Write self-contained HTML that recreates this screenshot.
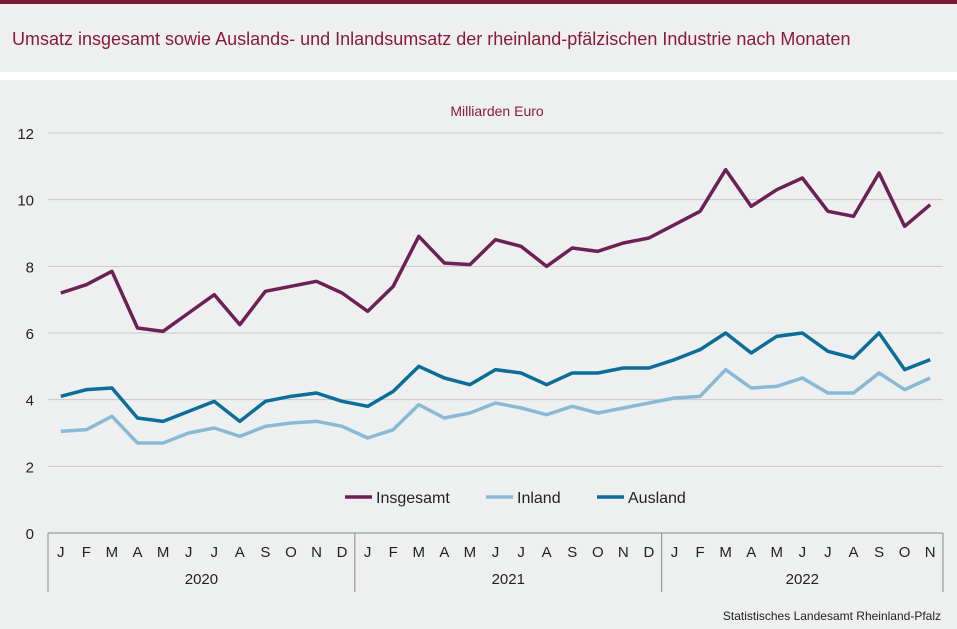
<!DOCTYPE html>
<html><head><meta charset="utf-8"><style>
body{margin:0;width:957px;height:629px;background:#eef0ef;font-family:"Liberation Sans",sans-serif;overflow:hidden;position:relative}
</style></head><body>
<div style="position:absolute;left:0;top:0;width:957px;height:4px;background:#7a1b33"></div>
<div style="position:absolute;left:12px;top:29px;font-size:18px;color:#8b1a3a">Umsatz insgesamt sowie Auslands- und Inlandsumsatz der rheinland-pfälzischen Industrie nach Monaten</div>
<div style="position:absolute;left:0;top:72px;width:957px;height:8px;background:#fff"></div>
<svg id="c" width="957" height="629" style="position:absolute;left:0;top:0"></svg>
<script>
const years=["2020","2021","2022"];
const months=["J","F","M","A","M","J","J","A","S","O","N","D","J","F","M","A","M","J","J","A","S","O","N","D","J","F","M","A","M","J","J","A","S","O","N"];
const yTicks=[0,2,4,6,8,10,12];
const insgesamt=[7.2,7.45,7.85,6.15,6.05,6.6,7.15,6.25,7.25,7.4,7.55,7.2,6.65,7.4,8.9,8.1,8.05,8.8,8.6,8.0,8.55,8.45,8.7,8.85,9.25,9.65,10.9,9.8,10.3,10.65,9.65,9.5,10.8,9.2,9.85];
const inland=[3.05,3.1,3.5,2.7,2.7,3.0,3.15,2.9,3.2,3.3,3.35,3.2,2.85,3.1,3.85,3.45,3.6,3.9,3.75,3.55,3.8,3.6,3.75,3.9,4.05,4.1,4.9,4.35,4.4,4.65,4.2,4.2,4.8,4.3,4.65];
const ausland=[4.1,4.3,4.35,3.45,3.35,3.65,3.95,3.35,3.95,4.1,4.2,3.95,3.8,4.25,5.0,4.65,4.45,4.9,4.8,4.45,4.8,4.8,4.95,4.95,5.2,5.5,6.0,5.4,5.9,6.0,5.45,5.25,6.0,4.9,5.2];
const svg=document.getElementById('c');const NS='http://www.w3.org/2000/svg';
const x0=48,x1=943,yb=533,yt=133,n=months.length,step=(x1-x0)/n;
const X=i=>x0+step*(i+0.5),Y=v=>yb-(v/12)*(yb-yt);
function mk(t,a,txt){const e=document.createElementNS(NS,t);for(const k in a)e.setAttribute(k,a[k]);if(txt!=null)e.textContent=txt;svg.appendChild(e);return e;}
let e=mk('text',{x:497,y:116,'text-anchor':'middle','font-size':14,fill:'#8b1a3a'},'Milliarden Euro');

yTicks.forEach(v=>{
 if(v>0){const g=mk('line',{x1:x0,x2:x1,y1:Y(v),y2:Y(v),stroke:'#c8c8c8','stroke-width':1});}
 const t=mk('text',{x:34,y:Y(v)+6,'text-anchor':'end','font-size':15,fill:'#222'},String(v));
 
});
e=mk('line',{x1:x0,x2:x1,y1:yb,y2:yb,stroke:'#888'});
months.forEach((m,i)=>{const t=mk('text',{x:X(i),y:557,'text-anchor':'middle','font-size':15,fill:'#222'},m);
 });
years.forEach((yr,k)=>{const s=k*12,en=Math.min(n,s+12);
 const l=mk('line',{x1:x0+s*step,x2:x0+s*step,y1:yb,y2:592,stroke:'#888'});
 const t=mk('text',{x:x0+(s+en)/2*step,y:584,'text-anchor':'middle','font-size':15,fill:'#222'},yr);
 });
e=mk('line',{x1:x1,x2:x1,y1:yb,y2:592,stroke:'#888'});
const series=[[inland,'#8ab9d6','line-inland'],[ausland,'#0a6e99','line-ausland'],[insgesamt,'#6b2154','line-insgesamt']];
series.forEach(([d,c,nm])=>{const p=mk('polyline',{points:d.map((v,i)=>X(i)+','+Y(v)).join(' '),fill:'none',stroke:c,'stroke-width':3.5,'stroke-linejoin':'round'});
 });
[['Insgesamt','#6b2154',345],['Inland','#8ab9d6',486],['Ausland','#0a6e99',597]].forEach(([l,c,x])=>{
 const ln=mk('line',{x1:x,x2:x+27,y1:497,y2:497,stroke:c,'stroke-width':3.5});
 const t=mk('text',{x:x+31,y:503,'font-size':16,fill:'#222'},l);});
e=mk('text',{x:941,y:620,'text-anchor':'end','font-size':12,fill:'#222'},'Statistisches Landesamt Rheinland-Pfalz');

</script>
</body></html>
